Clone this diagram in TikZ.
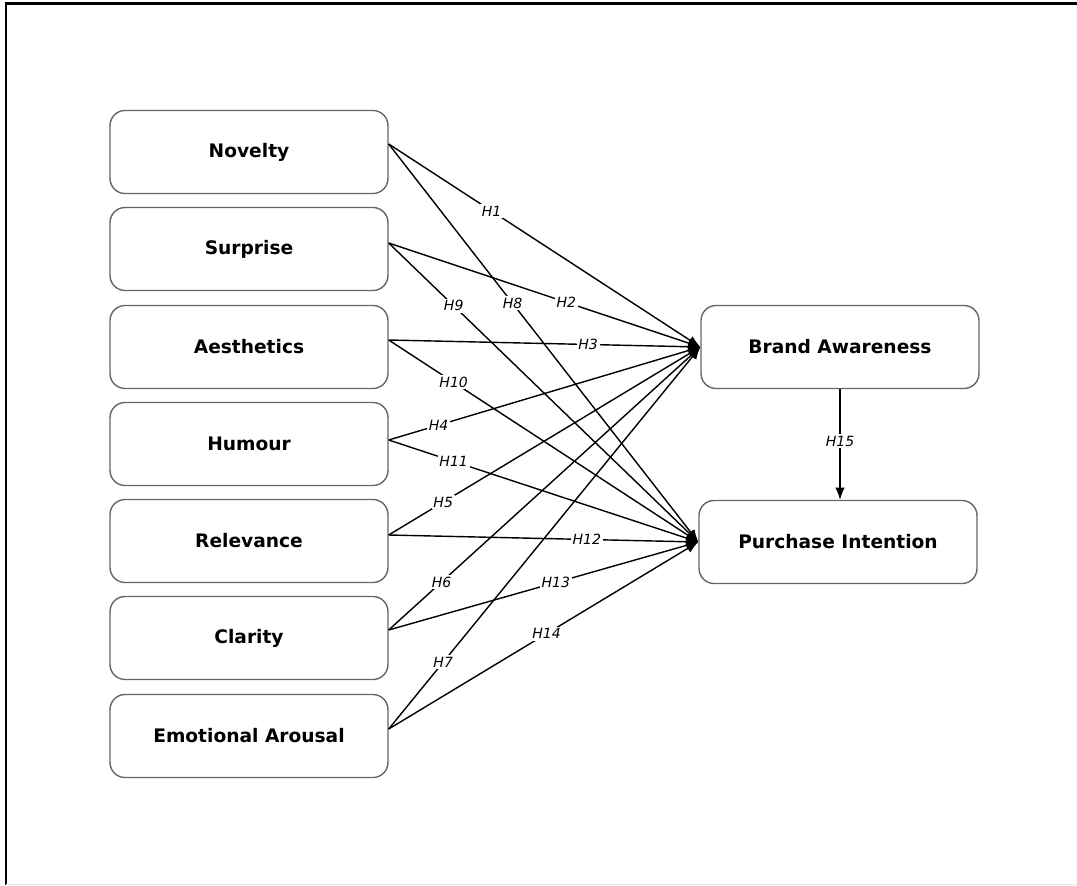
\documentclass[tikz,border=0pt]{standalone}
\usepackage{fontspec}
\setmainfont{DejaVu Sans}
\usetikzlibrary{arrows.meta,positioning}

\begin{document}
\begin{tikzpicture}[x=0.02cm,y=-0.02cm,
  box/.style={draw=black!60,line width=0.8pt,rounded corners=0.3cm,minimum width=5.56cm,minimum height=1.66cm,font=\bfseries\fontsize{10.6}{12}\selectfont},
  link/.style={line width=0.8pt,-{Latex[length=7pt,width=5.5pt]}},
  hyp/.style={fill=white,inner sep=1pt,font=\itshape\fontsize{8}{9}\selectfont}]
\useasboundingbox (0,0) rectangle (1077,885);
\draw[line width=1.2pt] (6,885) -- (6,3.5) -- (1077,3.5);
\draw[black!8] (6,884) -- (1077,884);

\node[box] (nov) at (249,152) {Novelty};
\node[box] (sur) at (249,249) {Surprise};
\node[box] (aes) at (249,347) {Aesthetics};
\node[box] (hum) at (249,444) {Humour};
\node[box] (rel) at (249,541) {Relevance};
\node[box] (cla) at (249,638) {Clarity};
\node[box] (emo) at (249,736) {Emotional Arousal};
\node[box] (ba) at (840,347) {Brand Awareness};
\node[box] (pi) at (838,542) {Purchase Intention};

\draw[link] ([yshift=0.16cm]nov.east) -- node[hyp,pos=0.33] {H1} (ba.west);
\draw[link] ([yshift=0.12cm]sur.east) -- node[hyp,pos=0.57] {H2} (ba.west);
\draw[link] ([yshift=0.14cm]aes.east) -- node[hyp,pos=0.64] {H3} (ba.west);
\draw[link] ([yshift=0.08cm]hum.east) -- node[hyp,pos=0.16] {H4} (ba.west);
\draw[link] ([yshift=0.12cm]rel.east) -- node[hyp,pos=0.175] {H5} (ba.west);
\draw[link] ([yshift=0.16cm]cla.east) -- node[hyp,pos=0.17] {H6} (ba.west);
\draw[link] ([yshift=0.14cm]emo.east) -- node[hyp,pos=0.175] {H7} (ba.west);
\draw[link] ([yshift=0.16cm]nov.east) -- node[hyp,pos=0.40] {H8} (pi.west);
\draw[link] ([yshift=0.12cm]sur.east) -- node[hyp,pos=0.21] {H9} (pi.west);
\draw[link] ([yshift=0.14cm]aes.east) -- node[hyp,pos=0.21] {H10} (pi.west);
\draw[link] ([yshift=0.08cm]hum.east) -- node[hyp,pos=0.21] {H11} (pi.west);
\draw[link] ([yshift=0.12cm]rel.east) -- node[hyp,pos=0.64] {H12} (pi.west);
\draw[link] ([yshift=0.16cm]cla.east) -- node[hyp,pos=0.54] {H13} (pi.west);
\draw[link] ([yshift=0.14cm]emo.east) -- node[hyp,pos=0.51] {H14} (pi.west);
\draw[link] (ba.south) -- node[hyp,pos=0.47] {H15} (ba.south |- pi.north);
\end{tikzpicture}
\end{document}
